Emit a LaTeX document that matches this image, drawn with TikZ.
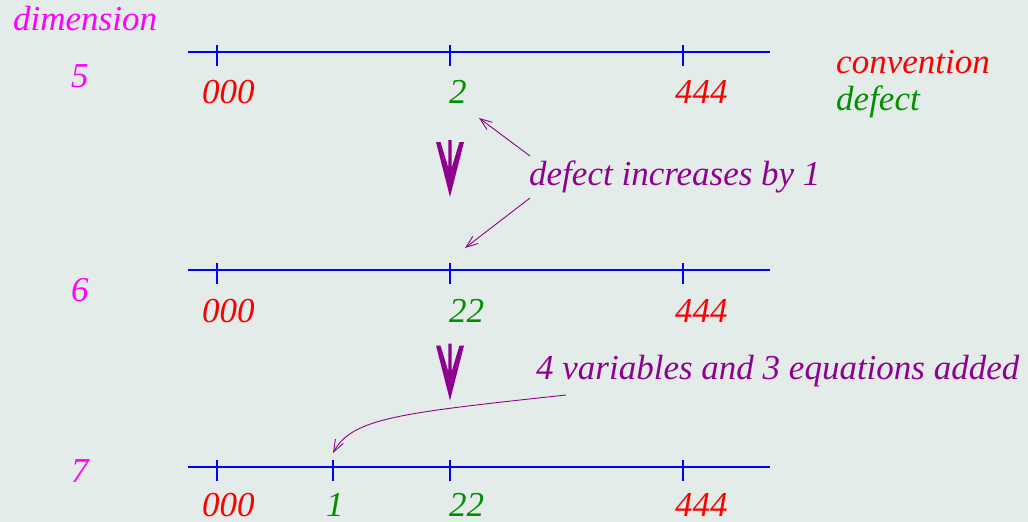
\documentclass[tikz,border=0pt]{standalone}
\usepackage{fontspec}
\setmainfont{Liberation Serif}[ItalicFont={Liberation Serif Italic}]
\usetikzlibrary{arrows.meta}
\definecolor{bg}{RGB}{228,236,233}
\definecolor{fmag}{RGB}{255,0,255}
\definecolor{fred}{RGB}{255,0,0}
\definecolor{fgreen}{RGB}{0,144,0}
\definecolor{fpurple}{RGB}{144,0,144}
\definecolor{fblue}{RGB}{0,0,255}
\begin{document}
\begin{tikzpicture}[x=1pt,y=-1pt,
  lbl/.style={anchor=base west,inner sep=0pt,font=\fontsize{35}{40}\selectfont\itshape},
  axis/.style={fblue,line width=1.3pt},
  conn/.style={fpurple,line width=0.9pt,-{Straight Barb[length=12pt,width=9pt]}},
  pics/bigarrow/.style={code={
    \fill[fpurple] (-14,0) -- (0,55) -- (14,0) -- (9.5,0) -- (1.6,26) -- (1.6,-2) -- (-1.6,-2) -- (-1.6,26) -- (-9.5,0) -- cycle;}}
  ]
\fill[bg] (0,0) rectangle (1028,522);
\useasboundingbox (0,0) rectangle (1028,522);

% dimension labels
\node[lbl,text=fmag] (dim) at (13,30) {dimension};
\node[lbl,text=fmag] (d5) at (71,87) {5};
\node[lbl,text=fmag] (d6) at (71,301) {6};
\node[lbl,text=fmag] (d7) at (71,482) {7};

% legend
\node[lbl,text=fred] (conv) at (836,73) {convention};
\node[lbl,text=fgreen] (defl) at (836,110) {defect};

% axes
\foreach \y in {52,270,467}{
  \draw[axis] (188,\y) -- (770,\y);
  \foreach \x in {217,450,683}{\draw[axis] (\x,\y-7) -- (\x,\y+14);}
}
\draw[axis] (333,460) -- (333,481);

% row 1 labels
\node[lbl,text=fred] (a000) at (202,103) {000};
\node[lbl,text=fgreen] (a2) at (449,103) {2};
\node[lbl,text=fred] (a444) at (675,103) {444};
% row 2 labels
\node[lbl,text=fred] (b000) at (202,322) {000};
\node[lbl,text=fgreen] (b22) at (449,322) {22};
\node[lbl,text=fred] (b444) at (675,322) {444};
% row 3 labels
\node[lbl,text=fred] (c000) at (202,516) {000};
\node[lbl,text=fgreen] (c1) at (326,516) {1};
\node[lbl,text=fgreen] (c22) at (449,516) {22};
\node[lbl,text=fred] (c444) at (675,516) {444};

% big arrows
\pic at (450,142) {bigarrow};
\pic at (450,345.5) {bigarrow};

% annotations
\node[lbl,text=fpurple] (inc) at (529,185) {defect increases by 1};
\node[lbl,text=fpurple] (add) at (536,379) {4 variables and 3 equations added};

\coordinate (s1) at (530,156);
\coordinate (e1) at (479,118);
\coordinate (s2) at (530,198);
\coordinate (e2) at (465,248);
\coordinate (s3) at (566,395);
\coordinate (e3) at (333,453);
\draw[conn] (s1) -- (e1);
\draw[conn] (s2) -- (e2);
\draw[conn] (s3) .. controls (400,413) and (352,418) .. (e3);
\end{tikzpicture}
\end{document}
